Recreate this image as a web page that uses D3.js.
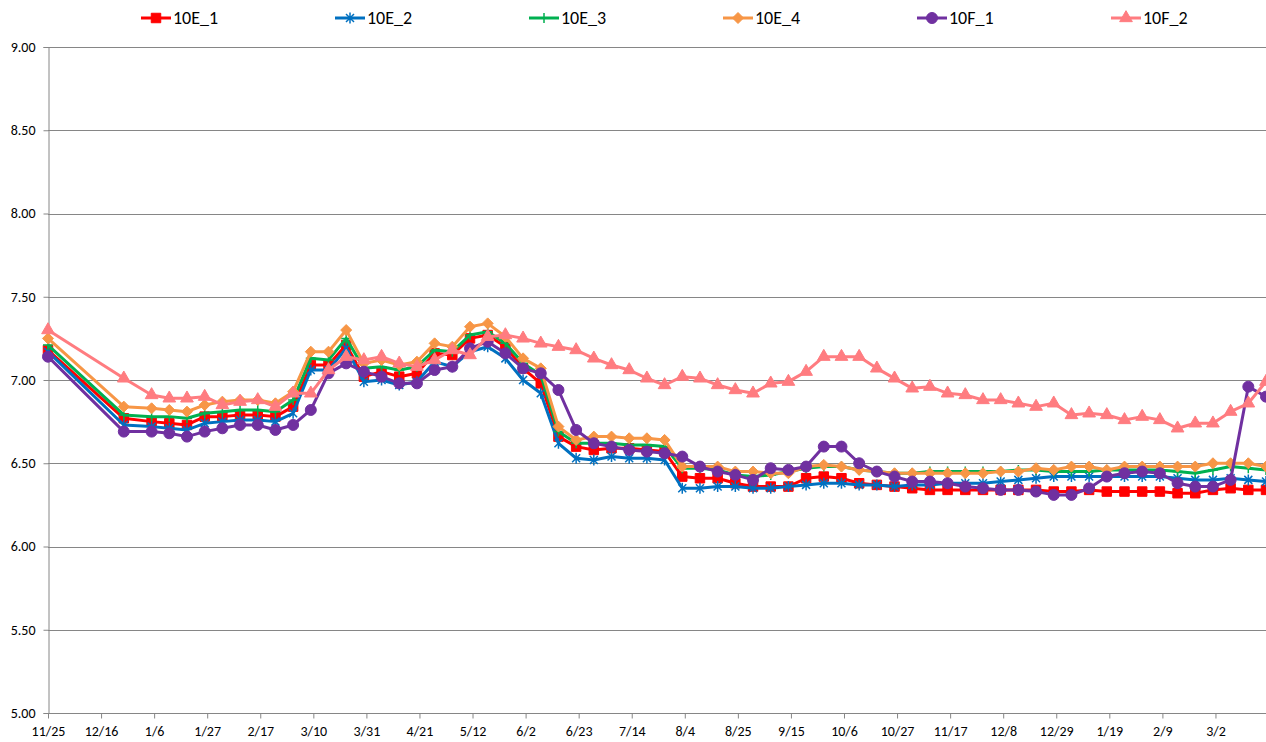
<!DOCTYPE html>
<html>
<head>
<meta charset="utf-8">
<script src="https://cdn.jsdelivr.net/npm/d3@7"></script>
<style>
  body { margin: 0; background: #fff; }
  svg text { font-family: Calibri, Carlito, Lato, "Liberation Sans", sans-serif; fill: #000; }
</style>
</head>
<body>
<div class="chart"></div>
<script>
// sample dates (m/d/yyyy)
const dates = [
  '11/25/2012', '12/25/2012',
  '1/5/2013', '1/12/2013', '1/19/2013', '1/26/2013', '2/2/2013', '2/9/2013', '2/16/2013', '2/23/2013',
  '3/2/2013', '3/9/2013', '3/16/2013', '3/23/2013', '3/30/2013', '4/6/2013', '4/13/2013', '4/20/2013',
  '4/27/2013', '5/4/2013', '5/11/2013', '5/18/2013', '5/25/2013', '6/1/2013', '6/8/2013', '6/15/2013',
  '6/22/2013', '6/29/2013', '7/6/2013', '7/13/2013', '7/20/2013', '7/27/2013', '8/3/2013', '8/10/2013',
  '8/17/2013', '8/24/2013', '8/31/2013', '9/7/2013', '9/14/2013', '9/21/2013', '9/28/2013', '10/5/2013',
  '10/12/2013', '10/19/2013', '10/26/2013', '11/2/2013', '11/9/2013', '11/16/2013', '11/23/2013', '11/30/2013',
  '12/7/2013', '12/14/2013', '12/21/2013', '12/28/2013', '1/4/2014', '1/11/2014', '1/18/2014', '1/25/2014',
  '2/1/2014', '2/8/2014', '2/15/2014', '2/22/2014', '3/1/2014', '3/8/2014', '3/15/2014', '3/22/2014'
];

const s10E_1 = [7.18, 6.77, 6.75, 6.74, 6.73, 6.78, 6.78, 6.79, 6.79, 6.78, 6.84, 7.09, 7.09, 7.21, 7.02, 7.05,
  7.02, 7.04, 7.16, 7.15, 7.25, 7.27, 7.20, 7.07, 6.98, 6.66, 6.60, 6.58, 6.59, 6.59, 6.58, 6.57, 6.42, 6.41,
  6.41, 6.38, 6.36, 6.36, 6.36, 6.41, 6.42, 6.41, 6.38, 6.37, 6.36, 6.35, 6.34, 6.34, 6.34, 6.34, 6.34, 6.34,
  6.34, 6.33, 6.33, 6.34, 6.33, 6.33, 6.33, 6.33, 6.32, 6.32, 6.34, 6.35, 6.34, 6.34];
const s10E_2 = [7.17, 6.73, 6.72, 6.71, 6.70, 6.74, 6.75, 6.76, 6.76, 6.75, 6.80, 7.06, 7.06, 7.19, 6.99, 7.00,
  6.97, 6.99, 7.11, 7.08, 7.17, 7.20, 7.13, 7.00, 6.92, 6.62, 6.53, 6.52, 6.54, 6.53, 6.53, 6.52, 6.35, 6.35,
  6.36, 6.36, 6.35, 6.35, 6.36, 6.37, 6.38, 6.38, 6.37, 6.37, 6.36, 6.37, 6.37, 6.38, 6.38, 6.38, 6.39, 6.40,
  6.41, 6.42, 6.42, 6.42, 6.42, 6.42, 6.42, 6.42, 6.41, 6.40, 6.40, 6.41, 6.40, 6.39];
const s10E_3 = [7.21, 6.79, 6.78, 6.78, 6.77, 6.80, 6.81, 6.82, 6.82, 6.81, 6.88, 7.13, 7.12, 7.25, 7.07, 7.08,
  7.06, 7.08, 7.18, 7.17, 7.27, 7.29, 7.22, 7.10, 7.03, 6.69, 6.62, 6.62, 6.62, 6.61, 6.61, 6.60, 6.47, 6.47,
  6.46, 6.43, 6.42, 6.43, 6.45, 6.47, 6.48, 6.48, 6.46, 6.45, 6.44, 6.44, 6.45, 6.45, 6.45, 6.45, 6.45, 6.46,
  6.46, 6.45, 6.45, 6.45, 6.46, 6.46, 6.46, 6.46, 6.45, 6.44, 6.46, 6.48, 6.47, 6.46];
const s10E_4 = [7.25, 6.84, 6.83, 6.82, 6.81, 6.85, 6.87, 6.88, 6.88, 6.86, 6.93, 7.17, 7.17, 7.30, 7.10, 7.12,
  7.09, 7.11, 7.22, 7.20, 7.32, 7.34, 7.26, 7.13, 7.07, 6.72, 6.64, 6.66, 6.66, 6.65, 6.65, 6.64, 6.48, 6.48,
  6.48, 6.45, 6.45, 6.44, 6.44, 6.48, 6.49, 6.48, 6.46, 6.45, 6.44, 6.44, 6.44, 6.44, 6.44, 6.44, 6.45, 6.45,
  6.47, 6.46, 6.48, 6.48, 6.46, 6.48, 6.48, 6.48, 6.48, 6.48, 6.50, 6.50, 6.50, 6.48];
const s10F_1 = [7.14, 6.69, 6.69, 6.68, 6.66, 6.69, 6.71, 6.73, 6.73, 6.70, 6.73, 6.82, 7.04, 7.10, 7.05, 7.02,
  6.98, 6.98, 7.06, 7.08, 7.19, 7.23, 7.16, 7.07, 7.04, 6.94, 6.70, 6.62, 6.60, 6.58, 6.57, 6.56, 6.54, 6.48,
  6.45, 6.43, 6.40, 6.47, 6.46, 6.48, 6.60, 6.60, 6.50, 6.45, 6.42, 6.39, 6.39, 6.38, 6.36, 6.35, 6.34, 6.34,
  6.33, 6.31, 6.31, 6.35, 6.42, 6.44, 6.45, 6.44, 6.38, 6.36, 6.36, 6.40, 6.96, 6.90];
const s10F_2 = [7.30, 7.01, 6.91, 6.89, 6.89, 6.90, 6.85, 6.87, 6.88, 6.84, 6.92, 6.92, 7.06, 7.14, 7.12, 7.14,
  7.10, 7.08, 7.12, 7.18, 7.15, 7.26, 7.27, 7.25, 7.22, 7.20, 7.18, 7.13, 7.09, 7.06, 7.01, 6.97, 7.02, 7.01,
  6.97, 6.94, 6.92, 6.98, 6.99, 7.05, 7.14, 7.14, 7.14, 7.07, 7.01, 6.95, 6.96, 6.92, 6.91, 6.88, 6.88, 6.86,
  6.84, 6.86, 6.79, 6.80, 6.79, 6.76, 6.78, 6.76, 6.71, 6.74, 6.74, 6.81, 6.86, 6.99];

const seriesNames = ['10E_1', '10E_2', '10E_3', '10E_4', '10F_1', '10F_2'];
const seriesValues = [s10E_1, s10E_2, s10E_3, s10E_4, s10F_1, s10F_2];
const seriesColors = ['#FF0000', '#0070C0', '#00B050', '#F79646', '#7030A0', '#FF7C80'];
const seriesMarkers = ['square', 'star', 'plus', 'diamond', 'circle', 'triangle'];
const yTicks = [5.0, 5.5, 6.0, 6.5, 7.0, 7.5, 8.0, 8.5, 9.0];

const W = 1266, H = 742;
const margin = { top: 47, right: 0, bottom: 29, left: 48 };

const parse = d3.timeParse('%m/%d/%Y');
const xDates = dates.map(parse);

const svg = d3.select('.chart')
  .append('svg')
  .attr('width', W)
  .attr('height', H);

const x = d3.scaleTime()
  .domain(d3.extent(xDates))
  .range([margin.left, W - margin.right]);

const y = d3.scaleLinear()
  .domain([5, 9])
  .range([H - margin.bottom, margin.top]);

// gridlines
svg.append('g')
  .selectAll('line')
  .data(yTicks.slice(1))
  .enter().append('line')
  .attr('x1', margin.left)
  .attr('x2', W - margin.right)
  .attr('y1', d => Math.round(y(d)) + 0.5)
  .attr('y2', d => Math.round(y(d)) + 0.5)
  .attr('stroke', '#868686')
  .attr('stroke-width', 1);

// y axis
const yAxis = svg.append('g')
  .attr('transform', `translate(${margin.left + 0.5},0)`)
  .call(d3.axisLeft(y).tickValues(yTicks).tickFormat(d3.format('.2f')).tickSize(5).tickPadding(8));
yAxis.selectAll('text').style('font-size', '14px');

// x axis, a tick every 3 weeks from the first date
const xTickValues = d3.range(0, 470, 21).map(d => d3.timeDay.offset(xDates[0], d));
const xAxis = svg.append('g')
  .attr('transform', `translate(0,${Math.round(y(5)) + 0.5})`)
  .call(d3.axisBottom(x).tickValues(xTickValues).tickFormat(d3.timeFormat('%-m/%-d')).tickSize(5).tickPadding(8));
xAxis.selectAll('text').style('font-size', '14px');

[yAxis, xAxis].forEach(a => {
  a.select('.domain').attr('stroke', '#868686');
  a.selectAll('.tick line').attr('stroke', '#868686');
});
xAxis.select('.domain').attr('d', `M${margin.left},0H${W}`);

function markerPath(kind) {
  switch (kind) {
    case 'square': return d3.symbol(d3.symbolSquare, 90)();
    case 'circle': return d3.symbol(d3.symbolCircle, 95)();
    case 'triangle': return d3.symbol(d3.symbolTriangle, 70)();
    case 'diamond': return 'M0,-5.5L5.5,0L0,5.5L-5.5,0Z';
    case 'plus': return 'M-5,0H5M0,-5V5';
    case 'star': return 'M-4,-4L4,4M-4,4L4,-4M0,-5.5V5.5';
  }
}

const line = d3.line()
  .x((d, i) => x(xDates[i]))
  .y(d => y(d));

seriesValues.forEach((vals, si) => {
  const g = svg.append('g').attr('class', 'series');
  const color = seriesColors[si];
  const kind = seriesMarkers[si];

  g.append('path')
    .datum(vals)
    .attr('fill', 'none')
    .attr('stroke', color)
    .attr('stroke-width', 3)
    .attr('stroke-linejoin', 'round')
    .attr('d', line);

  const open = kind === 'plus' || kind === 'star';
  g.selectAll('path.mark')
    .data(vals)
    .enter().append('path')
    .attr('class', 'mark')
    .attr('transform', (d, i) => `translate(${x(xDates[i])},${y(d)})`)
    .attr('d', markerPath(kind))
    .attr('fill', open ? 'none' : color)
    .attr('stroke', color)
    .attr('stroke-width', open ? 1.5 : 1);
});

// legend
const legend = svg.append('g')
  .selectAll('g')
  .data(seriesNames)
  .enter().append('g')
  .attr('transform', (d, i) => `translate(${141 + i * 194},18)`);

legend.append('line')
  .attr('x1', 0).attr('x2', 30)
  .attr('stroke', (d, i) => seriesColors[i])
  .attr('stroke-width', 3);

legend.append('path')
  .attr('transform', 'translate(15,0)')
  .attr('d', (d, i) => markerPath(seriesMarkers[i]))
  .attr('fill', (d, i) => (seriesMarkers[i] === 'plus' || seriesMarkers[i] === 'star') ? 'none' : seriesColors[i])
  .attr('stroke', (d, i) => seriesColors[i])
  .attr('stroke-width', (d, i) => (seriesMarkers[i] === 'plus' || seriesMarkers[i] === 'star') ? 1.5 : 1);

legend.append('text')
  .attr('x', 32)
  .attr('dy', '0.35em')
  .style('font-size', '18px')
  .text(d => d);
</script>
</body>
</html>
